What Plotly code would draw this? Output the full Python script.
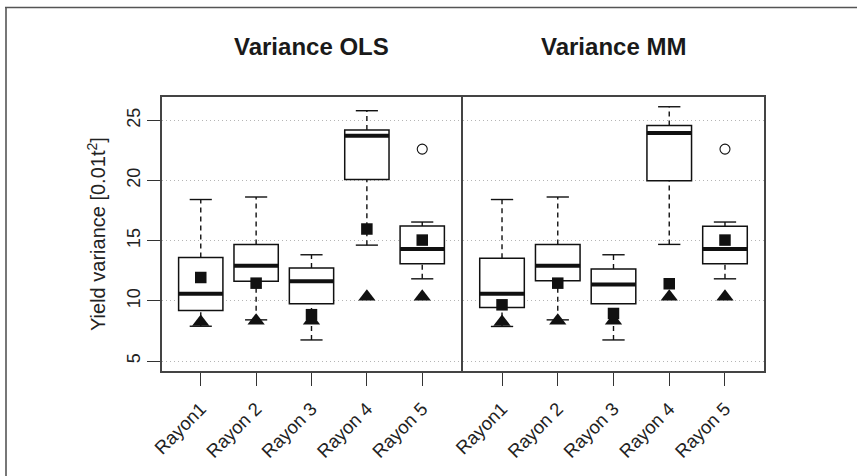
import plotly.graph_objects as go

# ---------------- data ----------------
categories = ["Rayon1", "Rayon 2", "Rayon 3", "Rayon 4", "Rayon 5"]
positions = [1, 2, 3, 4, 5]
panel_titles = ["Variance OLS", "Variance MM"]

# Variance OLS
ols_low = [7.89, 8.42, 6.75, 14.63, 11.83]
ols_q1 = [9.19, 11.63, 9.75, 20.08, 13.08]
ols_med = [10.58, 12.92, 11.63, 23.72, 14.30]
ols_q3 = [13.61, 14.69, 12.72, 24.19, 16.22]
ols_high = [18.42, 18.63, 13.83, 25.80, 16.55]
ols_outliers_x = [5]
ols_outliers_y = [22.61]
ols_square = [11.94, 11.47, 8.85, 15.97, 15.05]

# Variance MM
mm_low = [7.87, 8.42, 6.75, 14.69, 11.83]
mm_q1 = [9.44, 11.66, 9.75, 19.97, 13.08]
mm_med = [10.60, 12.92, 11.36, 23.94, 14.30]
mm_q3 = [13.53, 14.69, 12.64, 24.58, 16.20]
mm_high = [18.42, 18.63, 13.83, 26.13, 16.55]
mm_outliers_x = [5]
mm_outliers_y = [22.61]
mm_square = [9.67, 11.47, 8.95, 11.42, 15.05]

# reference (triangle) values, same in both panels
triangle_vals = [8.25, 8.35, 8.35, 10.35, 10.35]

y_ticks = [5, 10, 15, 20, 25]

# ---------------- figure ----------------
BOXW = 0.8
STAPLE = 0.2
fig = go.Figure()

panels = [
    (ols_low, ols_q1, ols_med, ols_q3, ols_high, ols_outliers_x, ols_outliers_y, ols_square, "x", "y"),
    (mm_low, mm_q1, mm_med, mm_q3, mm_high, mm_outliers_x, mm_outliers_y, mm_square, "x2", "y2"),
]

for low, q1, med, q3, high, ox, oy, sq, xa, ya in panels:
    fig.add_trace(go.Box(
        x=positions, q1=q1, median=med, q3=q3, lowerfence=q1, upperfence=q3,
        width=BOXW, whiskerwidth=0, fillcolor="white",
        line=dict(color="#111", width=1.5), boxpoints=False,
        xaxis=xa, yaxis=ya, showlegend=False, hoverinfo="skip",
    ))
    # dashed whiskers
    wx, wy = [], []
    for p, a, b, c, d in zip(positions, low, q1, q3, high):
        wx += [p, p, None, p, p, None]
        wy += [a, b, None, c, d, None]
    fig.add_trace(go.Scatter(x=wx, y=wy, mode="lines",
                             line=dict(color="#111", width=1.4, dash="5px,4px"),
                             xaxis=xa, yaxis=ya, showlegend=False, hoverinfo="skip"))
    # staples
    sx, sy = [], []
    for p, a, d in zip(positions, low, high):
        sx += [p - STAPLE, p + STAPLE, None, p - STAPLE, p + STAPLE, None]
        sy += [a, a, None, d, d, None]
    fig.add_trace(go.Scatter(x=sx, y=sy, mode="lines",
                             line=dict(color="#111", width=1.4),
                             xaxis=xa, yaxis=ya, showlegend=False, hoverinfo="skip"))
    # thick medians
    mx, my = [], []
    for p, m in zip(positions, med):
        mx += [p - BOXW / 2, p + BOXW / 2, None]
        my += [m, m, None]
    fig.add_trace(go.Scatter(x=mx, y=my, mode="lines",
                             line=dict(color="#111", width=4),
                             xaxis=xa, yaxis=ya, showlegend=False, hoverinfo="skip"))
    # outliers
    fig.add_trace(go.Scatter(x=ox, y=oy, mode="markers",
                             marker=dict(symbol="circle-open", size=10, color="#111",
                                         line=dict(width=1.1, color="#111")),
                             xaxis=xa, yaxis=ya, showlegend=False, hoverinfo="skip"))
    # triangles
    fig.add_trace(go.Scatter(x=positions, y=triangle_vals, mode="markers",
                             marker=dict(symbol="triangle-up", size=15, color="#111",
                                         line=dict(width=0)),
                             xaxis=xa, yaxis=ya, showlegend=False, hoverinfo="skip"))
    # squares
    fig.add_trace(go.Scatter(x=positions, y=sq, mode="markers",
                             marker=dict(symbol="square", size=11.5, color="#111",
                                         line=dict(width=0)),
                             xaxis=xa, yaxis=ya, showlegend=False, hoverinfo="skip"))

FONT = "Liberation Sans, Arial, sans-serif"
common_x = dict(range=[0.3, 5.7], tickvals=positions, ticktext=categories,
                tickangle=-45, ticks="outside", ticklen=13, tickwidth=1.3,
                tickcolor="#333", showgrid=False, zeroline=False, automargin=False,
                showline=True, mirror=True, linecolor="#444", linewidth=1.6,
                ticklabelstandoff=5,
                tickfont=dict(family=FONT, size=18.5, color="#222"))
common_y = dict(range=[4.17, 26.94], tickvals=y_ticks, showgrid=True,
                gridcolor="#b5b5b5", griddash="1px,3px", gridwidth=1,
                zeroline=False, showline=True, mirror=True, automargin=False,
                linecolor="#444", linewidth=1.6)

L, R, T, B = 162, 93, 97, 105
W, H = 857, 476
pw, ph = W - L - R, H - T - B
d1 = (461 - L) / pw
d2 = (463 - L) / pw

fig.update_layout(
    template="none",
    width=W, height=H,
    margin=dict(l=L, r=R, t=T, b=B),
    paper_bgcolor="white", plot_bgcolor="white",
    xaxis=dict(domain=[0, d1], anchor="y", **common_x),
    xaxis2=dict(domain=[d2, 1], anchor="y2", **common_x),
    yaxis=dict(domain=[0, 1], anchor="x", ticks="outside", ticklen=13, tickwidth=1.3,
               tickcolor="#333", tickangle=-90,
               tickfont=dict(family=FONT, size=18, color="#222"), **common_y),
    yaxis2=dict(domain=[0, 1], anchor="x2", showticklabels=False, ticks="", **common_y),
    font=dict(family=FONT),
)

def px_x(px):
    return (px - L) / pw

def px_y(py):
    return (H - B - py) / ph

# panel titles
for title, (a, b) in zip(panel_titles, [(0, d1), (d2, 1)]):
    fig.add_annotation(text="<b>%s</b>" % title, x=(a + b) / 2, y=px_y(47),
                       xref="paper", yref="paper", showarrow=False,
                       xanchor="center", yanchor="middle",
                       font=dict(family=FONT, size=24, color="#1a1a1a"))

# y-axis title
fig.add_annotation(text="Yield variance [0.01t<sup>2</sup>]", x=px_x(96), y=0.5,
                   xref="paper", yref="paper", showarrow=False, textangle=-90,
                   xanchor="center", yanchor="middle",
                   font=dict(family=FONT, size=20, color="#222"))

# outer frame (top and left edges of the figure border)
fig.add_shape(type="line", xref="paper", yref="paper",
              x0=px_x(5), x1=px_x(860), y0=px_y(7.5), y1=px_y(7.5),
              line=dict(color="#555", width=1.6))
fig.add_shape(type="line", xref="paper", yref="paper",
              x0=px_x(6), x1=px_x(6), y0=px_y(7.5), y1=px_y(480),
              line=dict(color="#555", width=1.6))

fig.write_html("out.html", config={"displayModeBar": False},
               post_script="document.body.style.margin='0px';document.body.style.overflow='hidden';")
